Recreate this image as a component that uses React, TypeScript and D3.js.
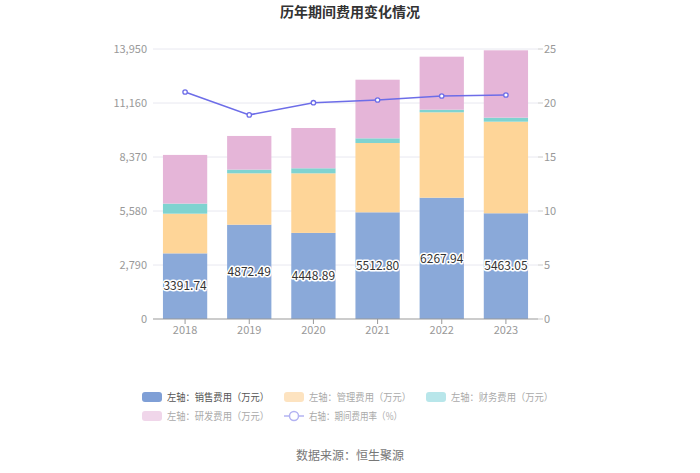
import React from "react";
import * as d3 from "d3";

const years = ["2018", "2019", "2020", "2021", "2022", "2023"];
const sales = [3391.74, 4872.49, 4448.89, 5512.8, 6267.94, 5463.05];
const mgmt = [2050, 2655, 3078, 3580, 4411, 4732];
const finance = [520, 190, 260, 242, 136, 207];
const rnd = [2516, 1740, 2082, 3029, 2738, 3480];
const rate = [21.02, 18.9, 20.03, 20.28, 20.65, 20.74];
const leftTicks = [0, 2790, 5580, 8370, 11160, 13950];
const rightTicks = [0, 5, 10, 15, 20, 25];

const seriesNames = ["左轴：销售费用（万元）", "左轴：管理费用（万元）", "左轴：财务费用（万元）", "左轴：研发费用（万元）"];
const rateName = "右轴：期间费用率（%）";
const colors = ["#8aa9d9", "#fed598", "#7fd3d0", "#e5b5d8"];
const legendColors = ["#7f9fd6", "#fde3c0", "#b8e6ea", "#f0d6ea"];
const lineColor = "#6d6de8";

export default function App() {
  const W = 700, H = 473;
  const left = 153, right = 538, top = 49, bottom = 319;
  const x = d3.scaleBand().domain(years).range([left, right]).paddingInner(0.31).paddingOuter(0.155);
  const yL = d3.scaleLinear().domain([0, 13950]).range([bottom, top]);
  const yR = d3.scaleLinear().domain([0, 25]).range([bottom, top]);
  const stackData = years.map((y, i) => ({ year: y, s0: sales[i], s1: mgmt[i], s2: finance[i], s3: rnd[i] }));
  const stacked = d3.stack<any>().keys(["s0", "s1", "s2", "s3"])(stackData);
  const line = d3.line<number>().x((_, i) => (x(years[i]) as number) + x.bandwidth() / 2).y((d) => yR(d));
  const font = "'Noto Sans CJK SC', 'Noto Sans', sans-serif";

  const legendItems = [
    { x: 142, y: 397, i: 0 },
    { x: 284, y: 397, i: 1 },
    { x: 426, y: 397, i: 2 },
    { x: 142, y: 416, i: 3 },
  ];

  return (
    <svg width={W} height={H} style={{ position: "absolute", left: 0, top: 0, fontFamily: font }}>
      <rect width={W} height={H} fill="#fff" />
      <text x={350} y={17} textAnchor="middle" fontSize={14} fontWeight="bold" fill="#333">历年期间费用变化情况</text>
      {leftTicks.map((t) => (
        <g key={t}>
          {t > 0 && <line x1={left} x2={right} y1={yL(t)} y2={yL(t)} stroke="#e8e8f0" />}
          <text x={147} y={yL(t)} dy="0.35em" textAnchor="end" fontSize={11} fill="#999">{d3.format(",")(t)}</text>
        </g>
      ))}
      {rightTicks.map((t) => (
        <g key={t}>
          <line x1={right} x2={right + 5} y1={yR(t)} y2={yR(t)} stroke="#ccc" />
          <text x={544} y={yR(t)} dy="0.35em" textAnchor="start" fontSize={11} fill="#999">{t}</text>
        </g>
      ))}
      {stacked.map((s, si) => (
        <g key={si}>
          {s.map((d, i) => (
            <rect key={i} x={x(years[i])} width={x.bandwidth()} y={yL(d[1])} height={yL(d[0]) - yL(d[1])} fill={colors[si]} />
          ))}
        </g>
      ))}
      <line x1={left} x2={right} y1={bottom} y2={bottom} stroke="#999" />
      {years.map((y) => (
        <g key={y}>
          <line x1={(x(y) as number) + x.bandwidth() / 2} x2={(x(y) as number) + x.bandwidth() / 2} y1={bottom} y2={bottom + 5} stroke="#999" />
          <text x={(x(y) as number) + x.bandwidth() / 2} y={bottom + 15} textAnchor="middle" fontSize={11} fill="#999">{y}</text>
        </g>
      ))}
      {sales.map((v, i) => (
        <text key={i} x={(x(years[i]) as number) + x.bandwidth() / 2} y={yL(v / 2)} dy="0.35em" textAnchor="middle" fontSize={12} fill="#333" stroke="#fff" strokeWidth={3} paintOrder="stroke" strokeLinejoin="round">{v.toFixed(2)}</text>
      ))}
      <path d={line(rate) as string} fill="none" stroke={lineColor} strokeWidth={1.6} />
      {rate.map((r, i) => (
        <circle key={i} cx={(x(years[i]) as number) + x.bandwidth() / 2} cy={yR(r)} r={2.2} fill="#fff" stroke={lineColor} strokeWidth={1.3} />
      ))}
      {legendItems.map((it) => (
        <g key={it.i}>
          <rect x={it.x} y={it.y - 5} width={20} height={10} rx={3} fill={legendColors[it.i]} />
          <text x={it.x + 25} y={it.y} dy="0.35em" fontSize={10} textLength={102} lengthAdjust="spacingAndGlyphs" fill={it.i === 0 ? "#555" : "#aaa"}>{seriesNames[it.i]}</text>
        </g>
      ))}
      <g>
        <line x1={284} x2={304} y1={416} y2={416} stroke="#b3b3f2" strokeWidth={1.5} />
        <circle cx={294} cy={416} r={4.5} fill="#fff" stroke="#b3b3f2" strokeWidth={1.5} />
        <text x={309} y={416} dy="0.35em" fontSize={10} textLength={93} lengthAdjust="spacingAndGlyphs" fill="#aaa">{rateName}</text>
      </g>
      <text x={350} y={460} textAnchor="middle" fontSize={12} fill="#777">数据来源：恒生聚源</text>
    </svg>
  );
}
